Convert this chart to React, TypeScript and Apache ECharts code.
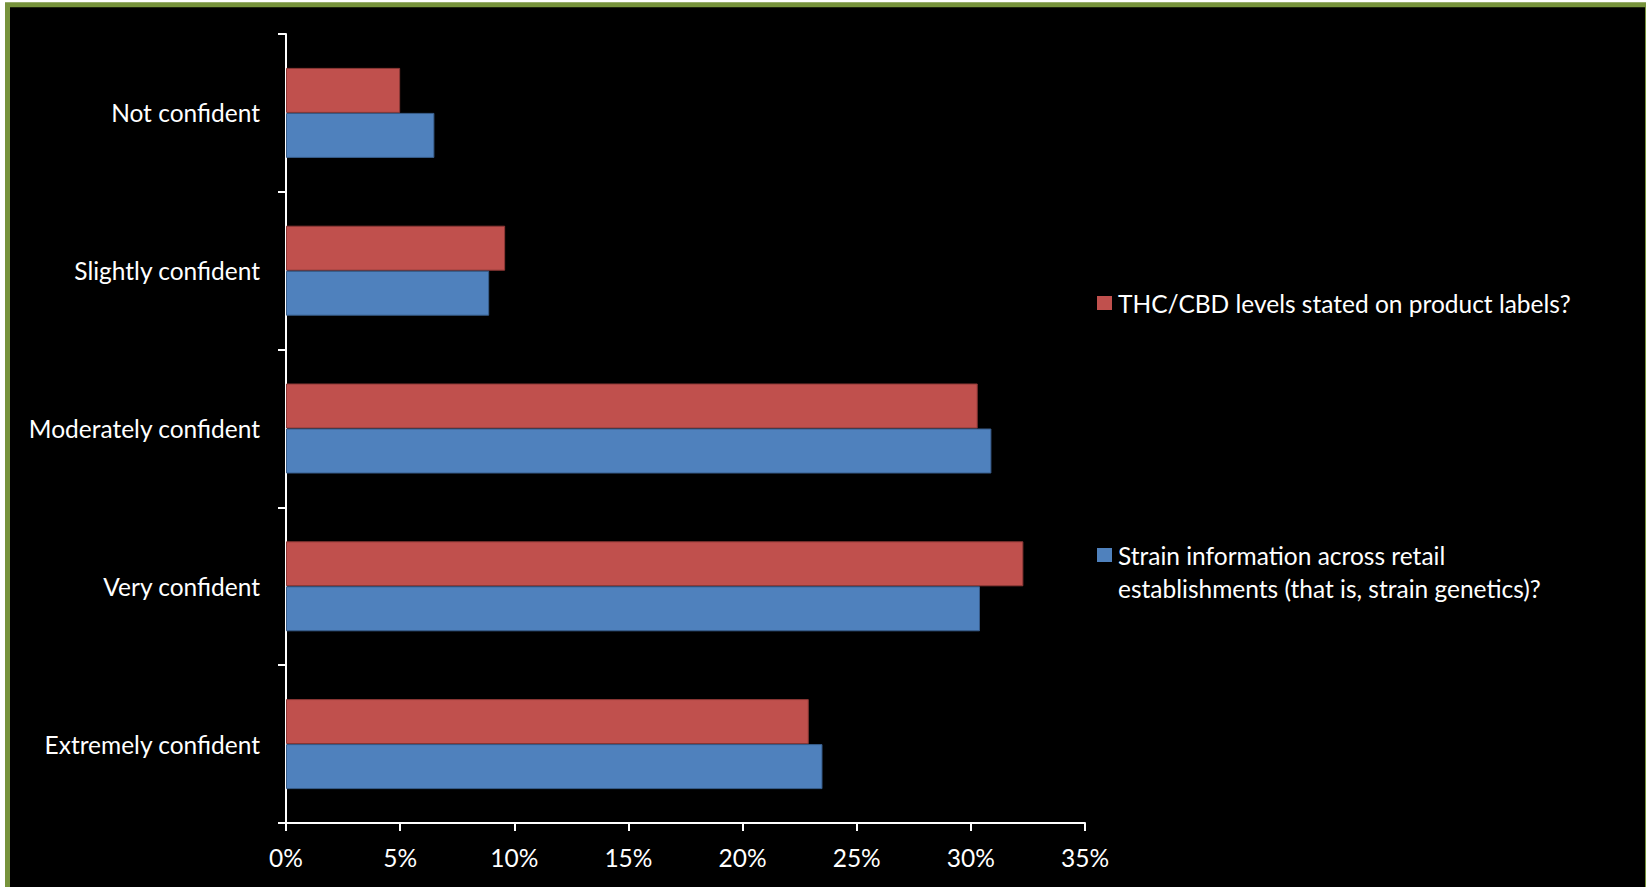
import React, { useEffect, useRef } from "react";
import * as echarts from "echarts";

// Confidence levels, top to bottom
const categories = [
  "Not confident",
  "Slightly confident",
  "Moderately confident",
  "Very confident",
  "Extremely confident",
];

const seriesNames = [
  "THC/CBD levels stated on product labels?",
  "Strain information across retail establishments (that is, strain genetics)?",
];

// Share of respondents (%)
const thcCbdLabels = [5.0, 9.6, 30.3, 32.3, 22.9];
const strainInfo = [6.5, 8.9, 30.9, 30.4, 23.5];

const xTicks = { min: 0, max: 35, interval: 5 };

const FONT = "Lato";
const FONT_SIZE = 24.5;

// Legend swatches: a 15x14 square inside a 15x47 box (the extra moveTo
// points stretch the icon's bounds), centred for one-line entries and
// aligned with the first line for the wrapped entry.
const ICON_CENTERED = "path://M0,16.5h15v14h-15Z M0,0 M0,47";
const ICON_TOP = "path://M0,0h15v14h-15Z M0,47";

export default function App() {
  const ref = useRef<HTMLDivElement>(null);

  useEffect(() => {
    if (!ref.current) return;
    const chart = echarts.init(ref.current, undefined, { renderer: "svg" });

    const legendLabel = (name: string) =>
      name === seriesNames[1]
        ? "Strain information across retail\nestablishments (that is, strain genetics)?"
        : name;

    const legendBase = {
      orient: "vertical",
      left: 1097,
      padding: 0,
      itemWidth: 15,
      itemHeight: 47,
      selectedMode: false,
      formatter: legendLabel,
      itemStyle: { borderWidth: 0 },
      textStyle: {
        color: "#ffffff",
        fontFamily: FONT,
        fontSize: FONT_SIZE,
        lineHeight: 33,
        padding: [0, 0, 0, 1],
      },
    };

    chart.setOption({
      animation: false,
      backgroundColor: "#ffffff",
      graphic: [
        {
          type: "rect",
          z: -10,
          silent: true,
          shape: { x: 7.5, y: 4.8, width: 1640, height: 900 },
          style: { fill: "#000000", stroke: "#77933C", lineWidth: 5 },
        },
      ],
      grid: { left: 286, top: 34, width: 799, height: 789 },
      legend: [
        {
          ...legendBase,
          top: 279.5,
          data: [{ name: seriesNames[0], icon: ICON_CENTERED }],
        },
        {
          ...legendBase,
          top: 538.5,
          data: [{ name: seriesNames[1], icon: ICON_TOP }],
        },
      ],
      xAxis: {
        type: "value",
        min: xTicks.min,
        max: xTicks.max,
        interval: xTicks.interval,
        splitLine: { show: false },
        axisLine: { show: true, lineStyle: { color: "#ffffff", width: 2 } },
        axisTick: { show: true, length: 8, lineStyle: { color: "#ffffff", width: 2 } },
        axisLabel: {
          color: "#ffffff",
          fontFamily: FONT,
          fontSize: FONT_SIZE,
          lineHeight: 28,
          margin: 20,
          formatter: "{value}%",
        },
      },
      yAxis: {
        type: "category",
        inverse: true,
        data: categories,
        axisLine: { show: true, lineStyle: { color: "#ffffff", width: 2 } },
        axisTick: { show: true, length: 8, lineStyle: { color: "#ffffff", width: 2 } },
        axisLabel: {
          color: "#ffffff",
          fontFamily: FONT,
          fontSize: FONT_SIZE,
          margin: 26,
        },
      },
      series: [
        {
          name: seriesNames[0],
          type: "bar",
          data: thcCbdLabels,
          barWidth: 45,
          barGap: "0%",
          itemStyle: { color: "#C0504D", borderColor: "#8C3836", borderWidth: 1 },
        },
        {
          name: seriesNames[1],
          type: "bar",
          data: strainInfo,
          barWidth: 45,
          barGap: "0%",
          itemStyle: { color: "#4F81BD", borderColor: "#385D8A", borderWidth: 1 },
        },
      ],
    });

    return () => chart.dispose();
  }, []);

  return (
    <div
      ref={ref}
      style={{ position: "fixed", left: 0, top: 0, width: 1646, height: 887 }}
    />
  );
}
